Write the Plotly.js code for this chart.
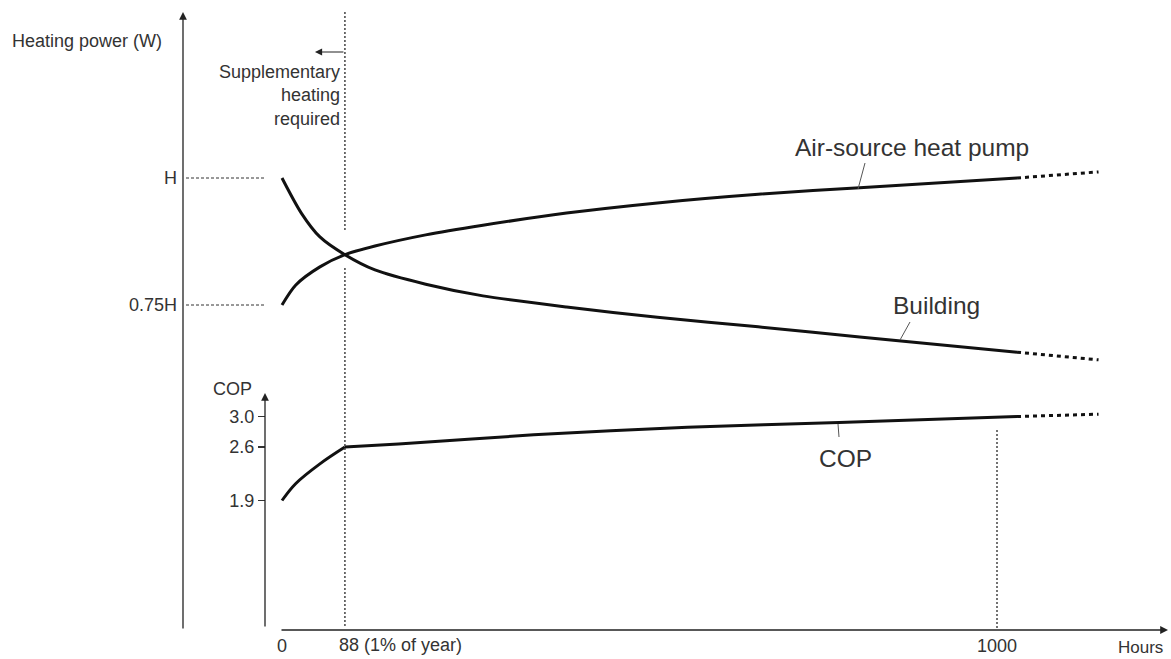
<!DOCTYPE html>
<html>
<head>
<meta charset="utf-8">
<script src="https://cdn.plot.ly/plotly-3.0.1.min.js"></script>
<style>html,body{margin:0;padding:0;background:#fff;}#chart{width:1171px;height:659px;}</style>
</head>
<body>
<div id="chart"></div>
<script>
// ---- data (hours on x, heating power in units of H, COP) ----
const hours      = [0, 27, 53, 88, 130, 201, 281, 398, 525, 666, 808, 1028];
const building   = [1.0, 0.931, 0.884, 0.849, 0.819, 0.791, 0.768, 0.746, 0.726, 0.707, 0.687, 0.657];
const ashpHours  = [0, 19, 53, 88, 130, 201, 281, 398, 525, 666, 808, 1028];
const ashp       = [0.75, 0.789, 0.825, 0.849, 0.866, 0.888, 0.907, 0.931, 0.951, 0.968, 0.981, 1.0];
const extHours   = [1028, 1142];
const buildingExt= [0.657, 0.642];
const ashpExt    = [1.0, 1.012];
const copHours   = [0, 19, 53, 88, 163, 352, 567, 779, 1028];
const cop        = [1.9, 2.12, 2.38, 2.6, 2.64, 2.76, 2.86, 2.92, 3.0];
const copExt     = [3.0, 3.03];
const supplementaryLimit = 88;
const yearMark   = 1000;
const powerTickVals = [0.75, 1.0];
const powerTickText = ['0.75H', 'H'];
const copTickVals = [1.9, 2.6, 3.0];
const copTickText = ['1.9', '2.6', '3.0'];
const xTickVals  = [0, 1000];
const xTickText  = ['0', '1000'];
const midTickLabel = '88 (1% of year)';

// ---- helpers for decorations (figure pixel -> paper fraction) ----
const W = 1171, H = 659;
const px = p => p / W;
const py = p => 1 - p / H;

const FONT = 'Liberation Sans, Arial, Helvetica, sans-serif';
const TXT = '#333';
const INK = '#111';
const SMALL = 18, BIG = 24.5;

// split COP at the kink (88 h)
const k = copHours.indexOf(supplementaryLimit);

const traces = [
  {x: hours, y: building, mode: 'lines', line: {color: INK, width: 3, shape: 'spline', smoothing: 0.8}, hoverinfo: 'skip'},
  {x: extHours, y: buildingExt, mode: 'lines', line: {color: INK, width: 3, dash: '4px,4px'}, hoverinfo: 'skip'},
  {x: ashpHours, y: ashp, mode: 'lines', line: {color: INK, width: 3, shape: 'spline', smoothing: 0.8}, hoverinfo: 'skip'},
  {x: extHours, y: ashpExt, mode: 'lines', line: {color: INK, width: 3, dash: '4px,4px'}, hoverinfo: 'skip'},
  {x: copHours.slice(0, k + 1), y: cop.slice(0, k + 1), yaxis: 'y2', mode: 'lines', line: {color: INK, width: 3, shape: 'spline', smoothing: 1}, hoverinfo: 'skip'},
  {x: copHours.slice(k), y: cop.slice(k), yaxis: 'y2', mode: 'lines', line: {color: INK, width: 3, shape: 'spline', smoothing: 0.6}, hoverinfo: 'skip'},
  {x: extHours, y: copExt, yaxis: 'y2', mode: 'lines', line: {color: INK, width: 3, dash: '4px,4px'}, hoverinfo: 'skip'}
];

const thinDot = {color: '#444', width: 1.5, dash: '2px,2px'};
const shapes = [
  // vertical dotted line at 88 h (broken around the crossing)
  {type: 'line', xref: 'x', yref: 'paper', x0: supplementaryLimit, x1: supplementaryLimit, y0: py(12), y1: py(232), line: thinDot},
  {type: 'line', xref: 'x', yref: 'paper', x0: supplementaryLimit, x1: supplementaryLimit, y0: py(268), y1: py(628), line: thinDot},
  // vertical dotted line at 1000 h
  {type: 'line', xref: 'x', yref: 'paper', x0: yearMark, x1: yearMark, y0: py(430), y1: py(628), line: thinDot},
  // dashed guides from H and 0.75H
  {type: 'line', xref: 'paper', yref: 'y', x0: px(186), x1: px(266), y0: powerTickVals[1], y1: powerTickVals[1], line: {color: '#333', width: 1, dash: '3px,2px'}},
  {type: 'line', xref: 'paper', yref: 'y', x0: px(186), x1: px(266), y0: powerTickVals[0], y1: powerTickVals[0], line: {color: '#333', width: 1, dash: '3px,2px'}},
  // leader lines
  {type: 'line', xref: 'paper', yref: 'paper', x0: px(865), y0: py(163), x1: px(858), y1: py(189), line: {color: '#555', width: 1}},
  {type: 'line', xref: 'paper', yref: 'paper', x0: px(910), y0: py(322), x1: px(900), y1: py(340), line: {color: '#555', width: 1}},
  {type: 'line', xref: 'paper', yref: 'paper', x0: px(838), y0: py(424), x1: px(839), y1: py(437), line: {color: '#555', width: 1}}
];

const arrowBase = {text: '', showarrow: true, arrowhead: 2, arrowsize: 1.2, arrowwidth: 1.3, arrowcolor: '#222', standoff: 0, startstandoff: 0};
const annotations = [
  // axis arrows
  Object.assign({}, arrowBase, {xref: 'paper', yref: 'paper', x: px(183), y: py(12), ax: 0, ay: 618}),
  Object.assign({}, arrowBase, {xref: 'paper', yref: 'paper', x: px(265), y: py(393), ax: 0, ay: 235}),
  Object.assign({}, arrowBase, {xref: 'paper', yref: 'paper', x: px(1168), y: py(630), ax: -888, ay: 0}),
  // supplementary heating arrow
  Object.assign({}, arrowBase, {xref: 'x', yref: 'paper', x: supplementaryLimit, xshift: -30, y: py(52), ax: 30, ay: 0, arrowwidth: 1.2}),
  // texts
  {xref: 'paper', yref: 'paper', x: px(10), y: py(41), xanchor: 'left', yanchor: 'middle', showarrow: false, text: 'Heating power (W)', font: {family: FONT, size: SMALL, color: TXT}},
  {xref: 'x', yref: 'paper', x: supplementaryLimit, xshift: -3, y: py(95), xanchor: 'right', yanchor: 'middle', align: 'right', showarrow: false, text: 'Supplementary<br>heating<br>required', font: {family: FONT, size: SMALL, color: TXT}},
  {xref: 'paper', yref: 'paper', x: px(232), y: py(389), xanchor: 'center', yanchor: 'middle', showarrow: false, text: 'COP', font: {family: FONT, size: SMALL, color: TXT}},
  {xref: 'paper', yref: 'paper', x: px(912), y: py(148), xanchor: 'center', yanchor: 'middle', showarrow: false, text: 'Air-source heat pump', font: {family: FONT, size: BIG, color: TXT}},
  {xref: 'paper', yref: 'paper', x: px(936), y: py(306), xanchor: 'center', yanchor: 'middle', showarrow: false, text: 'Building', font: {family: FONT, size: BIG, color: TXT}},
  {xref: 'paper', yref: 'paper', x: px(845), y: py(458), xanchor: 'center', yanchor: 'middle', showarrow: false, text: 'COP', font: {family: FONT, size: BIG, color: TXT}},
  {xref: 'x', yref: 'paper', x: supplementaryLimit, xshift: -8, y: py(645), xanchor: 'left', yanchor: 'middle', showarrow: false, text: midTickLabel, font: {family: FONT, size: SMALL, color: TXT}},
  {xref: 'paper', yref: 'paper', x: px(1165), y: py(647), xanchor: 'right', yanchor: 'middle', showarrow: false, text: 'Hours', font: {family: FONT, size: 17, color: TXT}}
];

const layout = {
  width: W, height: H,
  margin: {l: 0, r: 0, t: 0, b: 0, pad: 0},
  paper_bgcolor: '#fff', plot_bgcolor: '#fff',
  showlegend: false,
  font: {family: FONT, size: SMALL, color: TXT},
  xaxis: {
    range: [-394.41, 1243.36], showgrid: false, zeroline: false, showline: false,
    tickvals: xTickVals, ticktext: xTickText, ticks: '', tickfont: {family: FONT, size: SMALL, color: TXT},
    anchor: 'free', position: py(630), ticklabelstandoff: 3, automargin: false, fixedrange: true
  },
  yaxis: {
    range: [0.05315, 1.35039], showgrid: false, zeroline: false, showline: false,
    tickvals: powerTickVals, ticktext: powerTickText, ticks: '', tickfont: {family: FONT, size: SMALL, color: TXT},
    anchor: 'free', position: px(183), ticklabelstandoff: 6, automargin: false, fixedrange: true
  },
  yaxis2: {
    overlaying: 'y', side: 'left',
    range: [-0.1757, 8.4544], showgrid: false, zeroline: false, showline: false,
    tickvals: copTickVals, ticktext: copTickText, ticks: 'outside', ticklen: 7, tickwidth: 1.2, tickcolor: '#333',
    tickfont: {family: FONT, size: SMALL, color: TXT},
    anchor: 'free', position: px(265), automargin: false, fixedrange: true
  },
  shapes: shapes,
  annotations: annotations
};

Plotly.newPlot('chart', traces, layout, {displayModeBar: false, staticPlot: true});
</script>
</body>
</html>
